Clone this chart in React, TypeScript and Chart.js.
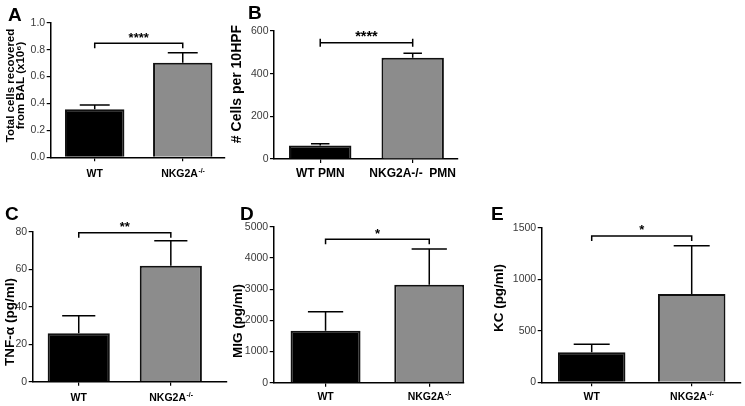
import React, { useEffect, useRef } from "react";
import { Chart, registerables } from "chart.js";

Chart.register(...registerables);

// ---------------- data ----------------
const groupLabels = ["WT", "NKG2A"];
const groupSup = ["", "-/-"];
const pmnLabels = ["WT PMN", "NKG2A-/-  PMN"];
const pmnSup = ["", ""];

// A: total BAL cells (x10^6)
const balMean = [0.357, 0.703];
const balSem = [0.032, 0.074];
const balTicks = [0, 0.2, 0.4, 0.6, 0.8, 1.0];
const balTickLabels = ["0.0", "0.2", "0.4", "0.6", "0.8", "1.0"];

// B: # cells per 10 HPF
const pmnMean = [63, 475];
const pmnSem = [8, 21];
const pmnTicks = [0, 200, 400, 600];
const pmnTickLabels = ["0", "200", "400", "600"];

// C: TNF-alpha
const tnfMean = [25.8, 61.9];
const tnfSem = [9.4, 13.3];
const tnfTicks = [0, 20, 40, 60, 80];
const tnfTickLabels = ["0", "20", "40", "60", "80"];

// D: MIG
const migMean = [1667, 3140];
const migSem = [610, 1145];
const migTicks = [0, 1000, 2000, 3000, 4000, 5000];
const migTickLabels = ["0", "1000", "2000", "3000", "4000", "5000"];

// E: KC
const kcMean = [292, 857];
const kcSem = [78, 468];
const kcTicks = [0, 500, 1000, 1500];
const kcTickLabels = ["0", "500", "1000", "1500"];

// significance brackets (A..E)
const sigLevels = [0.847, 545, 79.5, 4600, 1420];
const sigStars = ["****", "****", "**", "*", "*"];

const panelLetters = ["A", "B", "C", "D", "E"];
const yTitles = [
  ["Total cells recovered", "from BAL (x10\u2076)"],
  ["# Cells per 10HPF"],
  ["TNF-\u03b1 (pg/ml)"],
  ["MIG (pg/ml)"],
  ["KC (pg/ml)"],
];

// ---------------- styling / layout ----------------
const FONT = "'Liberation Sans', Arial, Helvetica, sans-serif";
const BAR_COLORS = ["#000000", "#8c8c8c"];

const panels = [
  {
    mean: balMean, sem: balSem, ticks: balTicks, tickLabels: balTickLabels,
    labels: groupLabels, sup: groupSup,
    canvas: { left: 0, top: 0, w: 245, h: 195 },
    plot: { left: 50.7, top: 22.7, right: 225, bottom: 157.3 },
    xMax: 1.48, capFrac: 0.34, bracket: "down", starSize: 13,
    title: { x: 15.9, y: 85.5, size: 11.5, lh: 10.8 },
    letter: { x: 8, y: 21 }, labelDy: 19.7, labelSize: 10.5,
  },
  {
    mean: pmnMean, sem: pmnSem, ticks: pmnTicks, tickLabels: pmnTickLabels,
    labels: pmnLabels, sup: pmnSup,
    canvas: { left: 228, top: 0, w: 242, h: 195 },
    plot: { left: 274, top: 31, right: 458, bottom: 159 },
    xMax: 1.49, capFrac: 0.2, bracket: "I", starSize: 14.5,
    title: { x: 237, y: 84, size: 14, lh: 14 },
    letter: { x: 248, y: 19 }, labelDy: 17.7, labelSize: 12,
  },
  {
    mean: tnfMean, sem: tnfSem, ticks: tnfTicks, tickLabels: tnfTickLabels,
    labels: groupLabels, sup: groupSup,
    canvas: { left: 0, top: 200, w: 245, h: 206 },
    plot: { left: 32.7, top: 231.7, right: 227, bottom: 381.7 },
    xMax: 1.61, capFrac: 0.36, bracket: "down", starSize: 13,
    title: { x: 10, y: 322, size: 13.5, lh: 13.5 },
    letter: { x: 5, y: 220 }, labelDy: 19.3, labelSize: 10.5,
  },
  {
    mean: migMean, sem: migSem, ticks: migTicks, tickLabels: migTickLabels,
    labels: groupLabels, sup: groupSup,
    canvas: { left: 233, top: 200, w: 247, h: 206 },
    plot: { left: 273.7, top: 226.7, right: 464, bottom: 382.7 },
    xMax: 1.335, capFrac: 0.34, bracket: "down", starSize: 13,
    title: { x: 238, y: 321, size: 13.5, lh: 13.5 },
    letter: { x: 240, y: 220 }, labelDy: 17.5, labelSize: 10.5,
  },
  {
    mean: kcMean, sem: kcSem, ticks: kcTicks, tickLabels: kcTickLabels,
    labels: groupLabels, sup: groupSup,
    canvas: { left: 485, top: 200, w: 260, h: 206 },
    plot: { left: 541.7, top: 227.7, right: 740.7, bottom: 382.3 },
    xMax: 1.49, capFrac: 0.36, bracket: "down", starSize: 13,
    title: { x: 499, y: 298, size: 13.5, lh: 13.5 },
    letter: { x: 491, y: 220 }, labelDy: 17.7, labelSize: 10.5,
  },
];

function makeDecor(idx: number, c: any) {
  return {
    id: "decor" + idx,
    afterDraw(chart: any) {
      const ctx = chart.ctx as CanvasRenderingContext2D;
      const xs = chart.scales.x;
      const ys = chart.scales.y;
      const area = chart.chartArea;
      const ox = c.canvas.left;
      const oy = c.canvas.top;
      ctx.save();
      ctx.strokeStyle = "#000";
      ctx.fillStyle = "#000";

      // error bars (upper only)
      const unit = xs.getPixelForValue(1) - xs.getPixelForValue(0);
      const capHalf = (unit * c.capFrac) / 2;
      ctx.lineWidth = 1.5;
      c.mean.forEach((m: number, i: number) => {
        const x = xs.getPixelForValue(i);
        const y0 = ys.getPixelForValue(m);
        const y1 = ys.getPixelForValue(m + c.sem[i]);
        ctx.beginPath();
        ctx.moveTo(x, y0);
        ctx.lineTo(x, y1);
        ctx.moveTo(x - capHalf, y1);
        ctx.lineTo(x + capHalf, y1);
        ctx.stroke();
      });

      // significance bracket
      const bx0 = xs.getPixelForValue(0);
      const bx1 = xs.getPixelForValue(1);
      const by = ys.getPixelForValue(sigLevels[idx]);
      ctx.lineWidth = 1.5;
      ctx.beginPath();
      if (c.bracket === "I") {
        ctx.moveTo(bx0, by);
        ctx.lineTo(bx1, by);
        ctx.moveTo(bx0, by - 4);
        ctx.lineTo(bx0, by + 4);
        ctx.moveTo(bx1, by - 4);
        ctx.lineTo(bx1, by + 4);
      } else {
        ctx.moveTo(bx0, by + 5);
        ctx.lineTo(bx0, by);
        ctx.lineTo(bx1, by);
        ctx.lineTo(bx1, by + 5);
      }
      ctx.stroke();
      ctx.font = `bold ${c.starSize}px ${FONT}`;
      ctx.textAlign = "center";
      ctx.textBaseline = "alphabetic";
      ctx.fillText(sigStars[idx], (bx0 + bx1) / 2, by - 1.5);

      // x category labels (with optional superscript)
      const ls = c.labelSize;
      c.labels.forEach((lab: string, i: number) => {
        const x = xs.getPixelForValue(i);
        const y = area.bottom + c.labelDy;
        ctx.font = `bold ${ls}px ${FONT}`;
        const wMain = ctx.measureText(lab).width;
        const sup = c.sup[i];
        ctx.font = `bold ${ls * 0.65}px ${FONT}`;
        const wSup = sup ? ctx.measureText(sup).width : 0;
        const start = x - (wMain + wSup) / 2;
        ctx.textAlign = "left";
        ctx.font = `bold ${ls}px ${FONT}`;
        ctx.fillText(lab, start, y);
        if (sup) {
          ctx.font = `bold ${ls * 0.65}px ${FONT}`;
          ctx.fillText(sup, start + wMain + 0.5, y - ls * 0.42);
        }
      });

      // y-axis title
      const t = c.title;
      const lines = yTitles[idx];
      ctx.save();
      ctx.translate(t.x - ox, t.y - oy);
      ctx.rotate(-Math.PI / 2);
      ctx.font = `bold ${t.size}px ${FONT}`;
      ctx.textAlign = "center";
      ctx.textBaseline = "middle";
      lines.forEach((ln: string, i: number) => {
        ctx.fillText(ln, 0, (i - (lines.length - 1) / 2) * t.lh);
      });
      ctx.restore();

      // panel letter
      ctx.font = `bold 19px ${FONT}`;
      ctx.textAlign = "left";
      ctx.textBaseline = "alphabetic";
      ctx.fillText(panelLetters[idx], c.letter.x - ox, c.letter.y - oy);

      ctx.restore();
    },
  };
}

function Panel({ idx }: { idx: number }) {
  const ref = useRef<HTMLCanvasElement>(null);
  const c: any = panels[idx];
  useEffect(() => {
    const canvas = ref.current!;
    const yWidth = c.plot.left - c.canvas.left;
    const xHeight = c.canvas.top + c.canvas.h - c.plot.bottom;
    const chart = new Chart(canvas, {
      type: "bar",
      data: {
        datasets: [
          {
            data: c.mean.map((v: number, i: number) => ({ x: i, y: v })),
            backgroundColor: BAR_COLORS,
            borderColor: "#111111",
            borderWidth: 2,
            categoryPercentage: 0.675,
            barPercentage: 1,
          } as any,
        ],
      },
      options: {
        responsive: false,
        animation: false,
        devicePixelRatio: 1,
        events: [],
        layout: {
          padding: {
            left: 0,
            top: c.plot.top - c.canvas.top,
            right: c.canvas.left + c.canvas.w - c.plot.right,
            bottom: 0,
          },
        },
        plugins: {
          legend: { display: false },
          tooltip: { enabled: false },
          title: { display: false },
        },
        scales: {
          x: {
            type: "linear",
            min: -0.5,
            max: c.xMax,
            offset: false,
            afterBuildTicks: (s: any) => {
              s.ticks = c.mean.map((_: number, i: number) => ({ value: i }));
            },
            afterFit: (s: any) => {
              s.height = xHeight;
            },
            ticks: { display: false },
            grid: {
              offset: false,
              drawOnChartArea: false,
              drawTicks: true,
              tickLength: 4,
              color: "#000",
              lineWidth: 1.2,
            },
            border: { display: true, color: "#000", width: 1.5 },
          },
          y: {
            type: "linear",
            min: 0,
            max: c.ticks[c.ticks.length - 1],
            afterBuildTicks: (s: any) => {
              s.ticks = c.ticks.map((v: number) => ({ value: v }));
            },
            afterFit: (s: any) => {
              s.width = yWidth;
            },
            ticks: {
              autoSkip: false,
              padding: 1.5,
              color: "#3a3a3a",
              font: { family: FONT, size: 10.5 },
              callback: (_v: any, i: number) => c.tickLabels[i],
            },
            grid: {
              drawOnChartArea: false,
              drawTicks: true,
              tickLength: 4,
              color: "#000",
              lineWidth: 1.2,
            },
            border: { display: true, color: "#000", width: 1.5 },
          },
        } as any,
      },
      plugins: [makeDecor(idx, c)],
    });
    return () => chart.destroy();
  }, []);
  return (
    <canvas
      ref={ref}
      width={c.canvas.w}
      height={c.canvas.h}
      style={{
        position: "absolute",
        left: c.canvas.left,
        top: c.canvas.top,
        width: c.canvas.w,
        height: c.canvas.h,
      }}
    />
  );
}

export default function App() {
  return (
    <div
      style={{
        position: "absolute",
        left: 0,
        top: 0,
        width: 745,
        height: 406,
        background: "#ffffff",
        overflow: "hidden",
      }}
    >
      {panels.map((_, i) => (
        <Panel key={i} idx={i} />
      ))}
    </div>
  );
}
